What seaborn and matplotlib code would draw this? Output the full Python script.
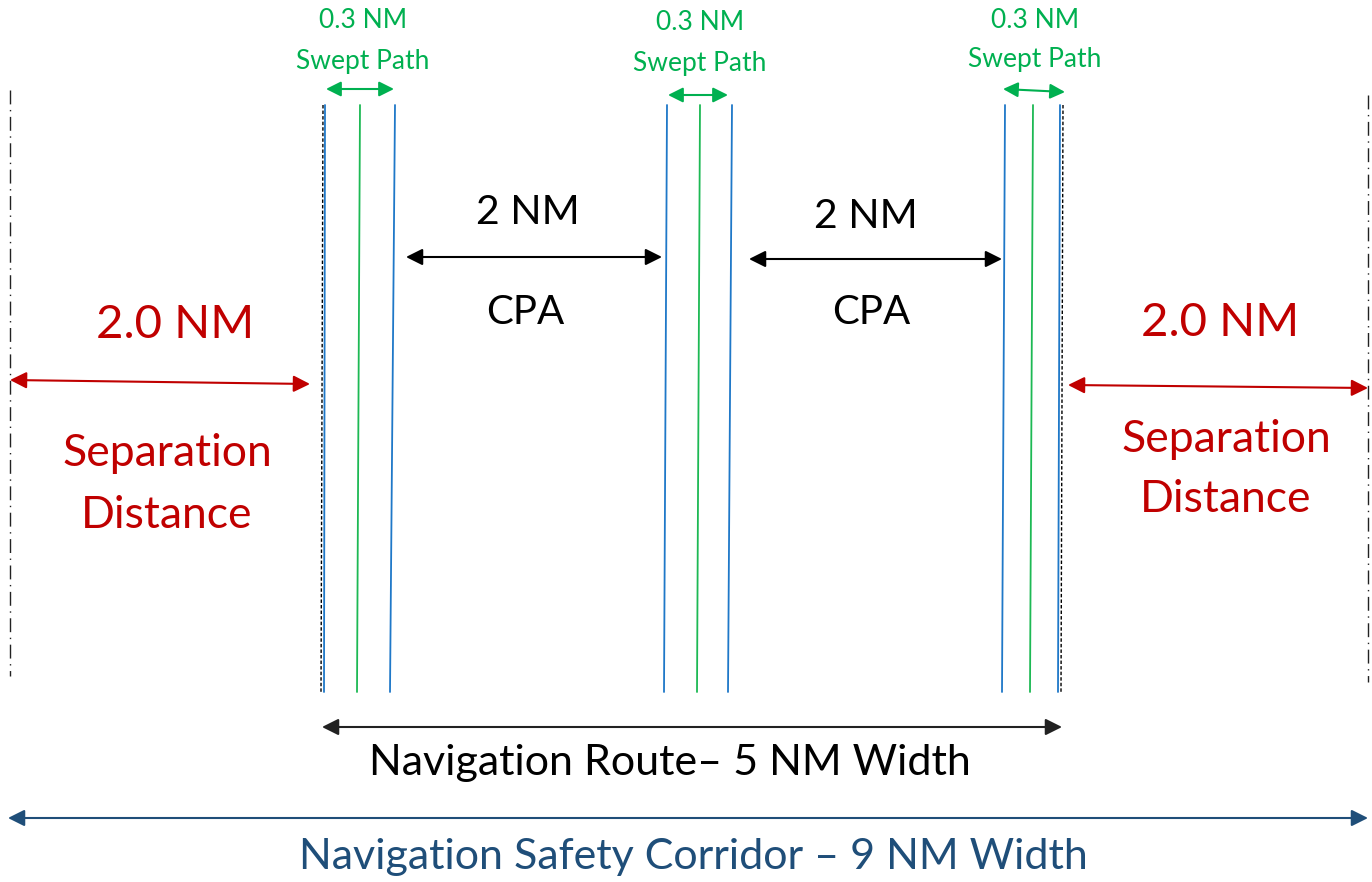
import matplotlib
matplotlib.use("Agg")
import matplotlib.pyplot as plt
import seaborn as sns
import pandas as pd

# ---------------- data (diagram positions in pixel-like units) ----------------
# vertical lane lines: (x_top, x_bottom, kind)
lane_x_top = [325, 360, 395, 667, 700, 732, 1005, 1033, 1060]
lane_x_bot = [324, 357, 390, 664, 697, 728, 1002, 1030, 1058]
lane_kind = ["blue", "green", "blue", "blue", "green", "blue", "blue", "green", "blue"]
lane_y = [105, 692]

route_edge_x_top = [323, 1063]
route_edge_x_bot = [321, 1061]

corridor_edge_x = [10, 1368]
corridor_edge_y = [[90, 676], [95, 682]]

# swept path arrows
swept_x0 = [326, 668, 1003]
swept_x1 = [394, 728, 1065]
swept_y0 = [89, 95, 89]
swept_y1 = [89, 95, 92]
swept_cx = [363, 700, 1035]
swept_label1 = ["0.3 NM", "0.3 NM", "0.3 NM"]
swept_label2 = ["Swept Path", "Swept Path", "Swept Path"]
swept_ty1 = [20, 23, 20]
swept_ty2 = [61, 63, 59]

# CPA arrows
cpa_x0 = [406, 749]
cpa_x1 = [662, 1002]
cpa_y = [257, 259]
cpa_text_x = [528, 866]
cpa_text_x2 = [525, 871]
cpa_labels = ["2 NM", "2 NM"]
cpa_ty = [212, 217]
cpa_ty2 = [313, 312]

# separation arrows
sep_x0 = [10, 1068]
sep_x1 = [310, 1368]
sep_y0 = [380, 385]
sep_y1 = [384, 388]
sep_cx = [175, 1220]
sep_cx2 = [167, 1226]
sep_dist_label = ["2.0 NM", "2.0 NM"]
sep_ty = [325, 323]
sep_ty2 = [453, 440]
sep_ty3 = [515, 500]

# width arrows
route_arrow = [322, 1062, 727]
route_label = "Navigation Route\u2013 5 NM Width"
corridor_arrow = [8, 1368, 818]
corridor_label = "Navigation Safety Corridor \u2013 9 NM Width"

BLUE = "#1f78c8"
GREEN = "#1db954"
GREEN_T = "#00b050"
RED = "#c00000"
NAVY = "#1f4e79"

sns.set_theme(style="white")
plt.rcParams["font.family"] = ["Lato", "DejaVu Sans"]

fig = plt.figure(figsize=(13.72, 8.82), dpi=100)
ax = fig.add_axes([0, 0, 1, 1])
ax.set_xlim(0, 1372)
ax.set_ylim(882, 0)
ax.axis("off")

# lane lines via seaborn
rows = []
for i, (xt, xb, k) in enumerate(zip(lane_x_top, lane_x_bot, lane_kind)):
    rows.append(dict(x=xt, y=lane_y[0], line=i, kind=k))
    rows.append(dict(x=xb, y=lane_y[1], line=i, kind=k))
df = pd.DataFrame(rows)
sns.lineplot(data=df, x="x", y="y", units="line", hue="kind",
             palette={"blue": BLUE, "green": GREEN}, estimator=None,
             sort=False, legend=False, lw=1.3, ax=ax)

# route edge dashed lines
for xt, xb in zip(route_edge_x_top, route_edge_x_bot):
    ax.plot([xt, xb], lane_y, color="black", lw=1.0, dashes=(2.5, 1.5))

# corridor edge dash-dot lines
for x, ys in zip(corridor_edge_x, corridor_edge_y):
    ax.plot([x, x], ys, color="#222222", lw=1.0, dashes=(10, 4, 1, 4))


def arrow(x0, y0, x1, y1, color, lw=1.5, ms=22):
    ax.annotate("", xy=(x1, y1), xytext=(x0, y0),
                arrowprops=dict(arrowstyle="<|-|>,head_length=0.5,head_width=0.25",
                                color=color, lw=lw, mutation_scale=ms,
                                shrinkA=0, shrinkB=0))

# swept path
for x0, x1, y0, y1, cx, l1, l2, t1, t2 in zip(swept_x0, swept_x1, swept_y0, swept_y1,
                                               swept_cx, swept_label1, swept_label2,
                                               swept_ty1, swept_ty2):
    arrow(x0, y0, x1, y1, GREEN_T, lw=1.5, ms=18)
    ax.text(cx, t1, l1, color=GREEN_T, fontsize=19, ha="center", va="center")
    ax.text(cx, t2, l2, color=GREEN_T, fontsize=19, ha="center", va="center")

# CPA
for x0, x1, y, tx, tx2, lab, ty, ty2 in zip(cpa_x0, cpa_x1, cpa_y, cpa_text_x, cpa_text_x2,
                                            cpa_labels, cpa_ty, cpa_ty2):
    arrow(x0, y, x1, y, "black", lw=1.5, ms=20)
    ax.text(tx, ty, lab, color="black", fontsize=29.5, ha="center", va="center")
    ax.text(tx2, ty2, "CPA", color="black", fontsize=29, ha="center", va="center")

# separation
for x0, x1, y0, y1, cx, cx2, lab, t1, t2, t3 in zip(sep_x0, sep_x1, sep_y0, sep_y1, sep_cx,
                                                     sep_cx2, sep_dist_label, sep_ty,
                                                     sep_ty2, sep_ty3):
    arrow(x0, y0, x1, y1, RED, lw=1.5, ms=20)
    ax.text(cx, t1, lab, color=RED, fontsize=34, ha="center", va="center")
    ax.text(cx2, t2, "Separation", color=RED, fontsize=32, ha="center", va="center")
    ax.text(cx2, t3, "Distance", color=RED, fontsize=32, ha="center", va="center")

# route width
arrow(route_arrow[0], route_arrow[2], route_arrow[1], route_arrow[2], "#222222", lw=1.5, ms=20)
ax.text(670, 763, route_label, color="black", fontsize=31, ha="center", va="center")

# corridor width
arrow(corridor_arrow[0], corridor_arrow[2], corridor_arrow[1], corridor_arrow[2], NAVY, lw=1.5, ms=20)
ax.text(693, 857, corridor_label, color=NAVY, fontsize=31, ha="center", va="center")

fig.savefig("out.png", dpi=100)
